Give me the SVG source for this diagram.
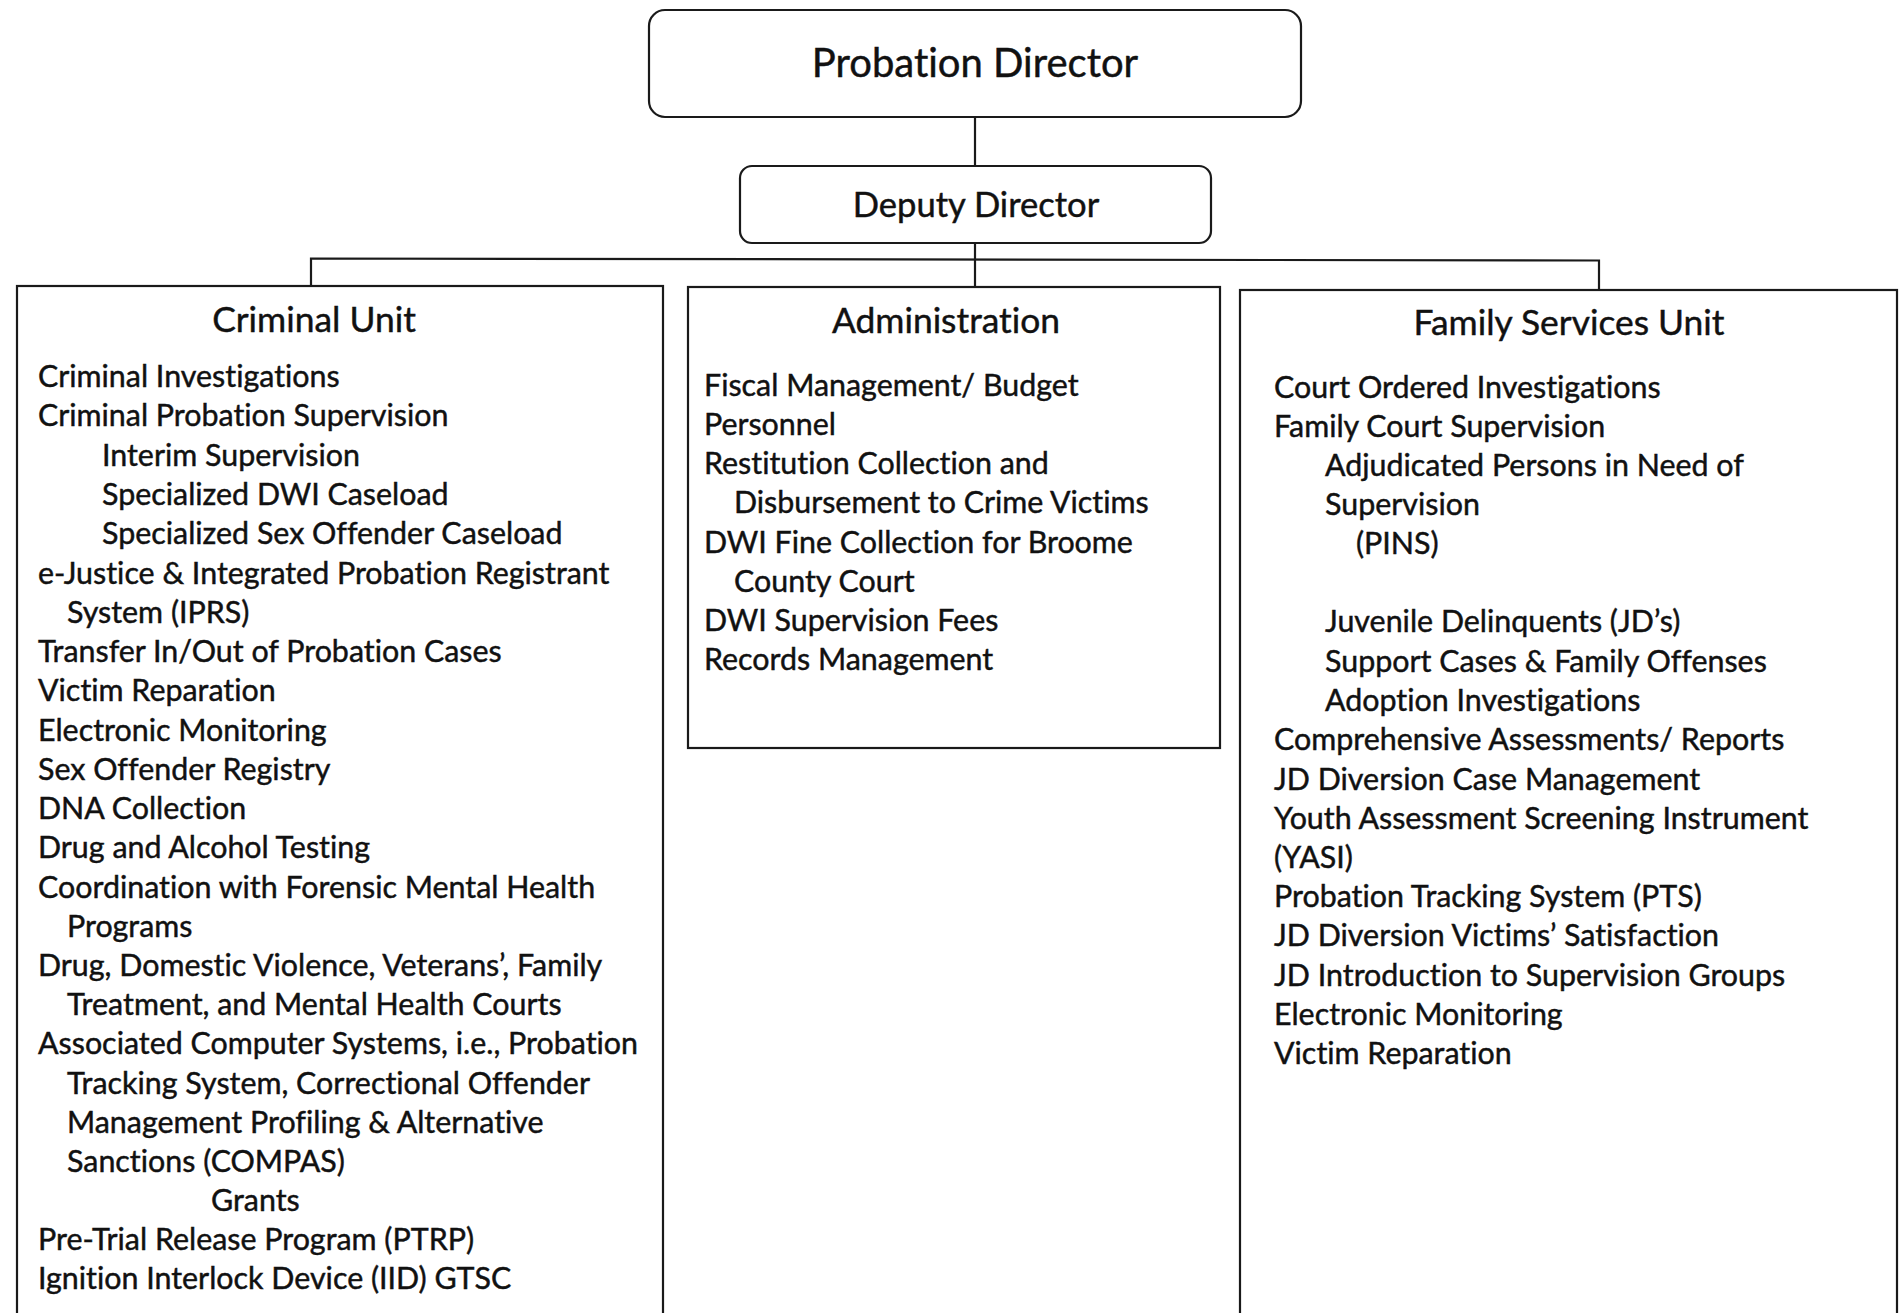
<svg xmlns="http://www.w3.org/2000/svg" width="1902" height="1313" viewBox="0 0 1902 1313">
  <style>
    .box { fill: #ffffff; stroke: #1a1a1a; stroke-width: 2.2; }
    .wire { fill: none; stroke: #1a1a1a; stroke-width: 2.2; }
    text { font-family: Lato, "Liberation Sans", sans-serif; fill: #111111; stroke: #111111; stroke-width: 0.45; font-variant-ligatures: none; }
    .head { font-size: 40px; text-anchor: middle; }
    .deputy { font-size: 34.6px; text-anchor: middle; }
    .title { font-size: 35.4px; text-anchor: middle; }
    .item { font-size: 30.4px; }
  </style>

  <rect width="1902" height="1313" fill="#ffffff"/>

  <!-- connectors -->
  <g id="connectors">
    <line class="wire" x1="975" y1="117" x2="975" y2="166"/>
    <line class="wire" x1="975" y1="243" x2="975" y2="287"/>
    <polyline class="wire" points="311,286 311,258.5 1599,260.5 1599,290"/>
  </g>

  <g id="probation-director">
    <rect class="box" x="649" y="10" width="652" height="107" rx="16" ry="16"/>
    <text class="head" x="975" y="77">Probation Director</text>
  </g>

  <g id="deputy-director">
    <rect class="box" x="740" y="166" width="471" height="77" rx="12" ry="12"/>
    <text class="deputy" x="976" y="217">Deputy Director</text>
  </g>

  <g id="criminal-unit">
    <rect class="box" x="17" y="286" width="646" height="1040"/>
    <text class="title" x="314" y="332">Criminal Unit</text>
    <text class="item" x="38" y="387">Criminal Investigations</text>
    <text class="item" x="38" y="426">Criminal Probation Supervision</text>
    <text class="item" x="102" y="466">Interim Supervision</text>
    <text class="item" x="102" y="505">Specialized DWI Caseload</text>
    <text class="item" x="102" y="544">Specialized Sex Offender Caseload</text>
    <text class="item" x="38" y="584">e-Justice &amp; Integrated Probation Registrant</text>
    <text class="item" x="67" y="623">System (IPRS)</text>
    <text class="item" x="38" y="662">Transfer In/Out of Probation Cases</text>
    <text class="item" x="38" y="701">Victim Reparation</text>
    <text class="item" x="38" y="741">Electronic Monitoring</text>
    <text class="item" x="38" y="780">Sex Offender Registry</text>
    <text class="item" x="38" y="819">DNA Collection</text>
    <text class="item" x="38" y="858">Drug and Alcohol Testing</text>
    <text class="item" x="38" y="898">Coordination with Forensic Mental Health</text>
    <text class="item" x="67" y="937">Programs</text>
    <text class="item" x="38" y="976">Drug, Domestic Violence, Veterans’, Family</text>
    <text class="item" x="67" y="1015">Treatment, and Mental Health Courts</text>
    <text class="item" x="38" y="1054">Associated Computer Systems, i.e., Probation</text>
    <text class="item" x="67" y="1094">Tracking System, Correctional Offender</text>
    <text class="item" x="67" y="1133">Management Profiling &amp; Alternative</text>
    <text class="item" x="67" y="1172">Sanctions (COMPAS)</text>
    <text class="item" x="211" y="1211">Grants</text>
    <text class="item" x="38" y="1250">Pre-Trial Release Program (PTRP)</text>
    <text class="item" x="38" y="1289">Ignition Interlock Device (IID) GTSC</text>
  </g>

  <g id="administration">
    <rect class="box" x="688" y="287" width="532" height="461"/>
    <text class="title" x="946" y="333">Administration</text>
    <text class="item" x="704" y="396">Fiscal Management/ Budget</text>
    <text class="item" x="704" y="435">Personnel</text>
    <text class="item" x="704" y="474">Restitution Collection and</text>
    <text class="item" x="734" y="513">Disbursement to Crime Victims</text>
    <text class="item" x="704" y="553">DWI Fine Collection for Broome</text>
    <text class="item" x="734" y="592">County Court</text>
    <text class="item" x="704" y="631">DWI Supervision Fees</text>
    <text class="item" x="704" y="670">Records Management</text>
  </g>

  <g id="family-services-unit">
    <rect class="box" x="1240" y="290" width="657" height="1040"/>
    <text class="title" x="1569" y="335">Family Services Unit</text>
    <text class="item" x="1274" y="398">Court Ordered Investigations</text>
    <text class="item" x="1274" y="437">Family Court Supervision</text>
    <text class="item" x="1325" y="476">Adjudicated Persons in Need of</text>
    <text class="item" x="1325" y="515">Supervision</text>
    <text class="item" x="1356" y="554">(PINS)</text>
    <text class="item" x="1325" y="632">Juvenile Delinquents (JD’s)</text>
    <text class="item" x="1325" y="672">Support Cases &amp; Family Offenses</text>
    <text class="item" x="1325" y="711">Adoption Investigations</text>
    <text class="item" x="1274" y="750">Comprehensive Assessments/ Reports</text>
    <text class="item" x="1274" y="790">JD Diversion Case Management</text>
    <text class="item" x="1274" y="829">Youth Assessment Screening Instrument</text>
    <text class="item" x="1274" y="868">(YASI)</text>
    <text class="item" x="1274" y="907">Probation Tracking System (PTS)</text>
    <text class="item" x="1274" y="946">JD Diversion Victims’ Satisfaction</text>
    <text class="item" x="1274" y="986">JD Introduction to Supervision Groups</text>
    <text class="item" x="1274" y="1025">Electronic Monitoring</text>
    <text class="item" x="1274" y="1064">Victim Reparation</text>
  </g>
</svg>
